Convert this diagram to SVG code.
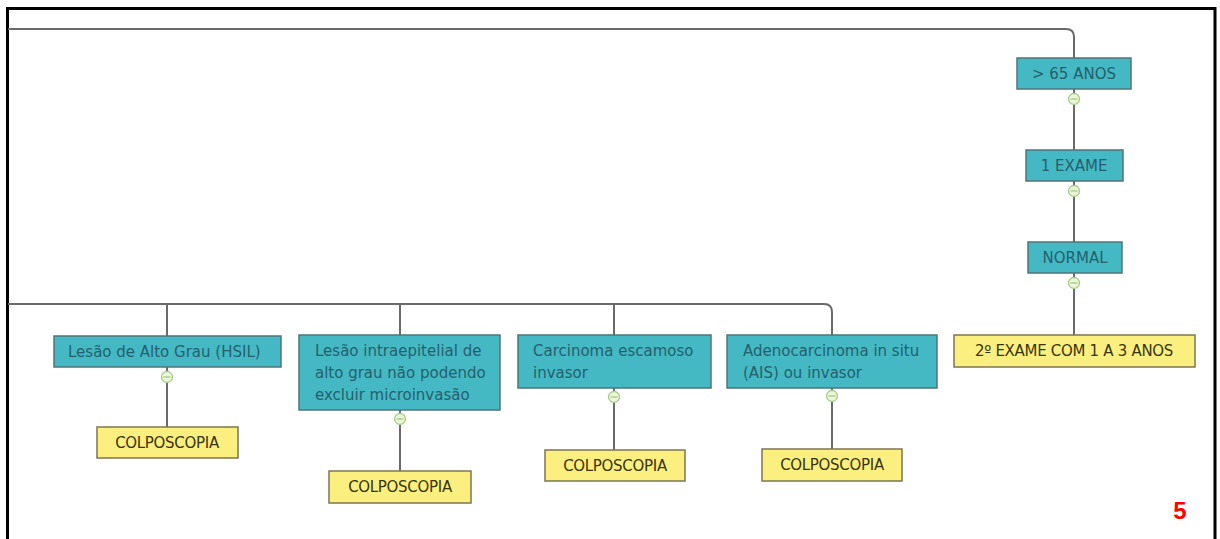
<svg xmlns="http://www.w3.org/2000/svg" width="1220" height="539" viewBox="0 0 1220 539">
  <defs>
    <style>
      .frame { fill: none; stroke: #000; stroke-width: 3; }
      .wire { fill: none; stroke: #6a6a6a; stroke-width: 2; }
      .teal rect { fill: #45b9c3; stroke: #4f7479; stroke-width: 1.5; }
      .teal text { fill: #24606e; font-family: "DejaVu Sans", sans-serif; font-size: 15px; }
      .yellow rect { fill: #fbf07f; stroke: #7d7650; stroke-width: 1.5; }
      .yellow text { fill: #3a3510; font-family: "DejaVu Sans", sans-serif; font-size: 15px; text-anchor: middle; letter-spacing: -0.3px; }
      .mid { text-anchor: middle; }
      .knob circle { fill: #eef6d8; stroke: #a3cc8c; stroke-width: 1.3; }
      .knob line { stroke: #a3cc8c; stroke-width: 1.3; }
      .page { fill: #ff0000; font-family: "Liberation Sans", Arial, sans-serif; font-size: 24px; font-weight: bold; text-anchor: middle; }
    </style>
    <g id="minus" class="knob">
      <circle cx="0" cy="0" r="5.5"/>
      <line x1="-3.5" y1="0" x2="3.5" y2="0"/>
    </g>
  </defs>

  <rect width="1220" height="539" fill="#fff"/>
  <path class="frame" d="M7.5 545 V8.5 H1215 V545"/>

  <!-- connectors -->
  <g id="connectors">
    <path class="wire" d="M8 29 H1066 Q1074 29 1074 37 V58"/>
    <path class="wire" d="M1074 89 V150"/>
    <path class="wire" d="M1074 181 V242"/>
    <path class="wire" d="M1074 273 V335"/>
    <path class="wire" d="M8 304 H824 Q832 304 832 312 V335"/>
    <path class="wire" d="M167 304 V336"/>
    <path class="wire" d="M400 304 V335"/>
    <path class="wire" d="M614 304 V335"/>
    <path class="wire" d="M167 367 V427"/>
    <path class="wire" d="M400 410 V471"/>
    <path class="wire" d="M614 388 V450"/>
    <path class="wire" d="M832 388 V449"/>
    <use href="#minus" x="1074" y="99"/>
    <use href="#minus" x="1074" y="191"/>
    <use href="#minus" x="1074" y="283"/>
    <use href="#minus" x="167" y="377"/>
    <use href="#minus" x="400" y="419"/>
    <use href="#minus" x="614" y="397"/>
    <use href="#minus" x="832" y="396"/>
  </g>

  <g id="n-65anos" class="teal">
    <rect x="1017" y="58" width="114" height="31"/>
    <text class="mid" x="1074" y="79">&gt; 65 ANOS</text>
  </g>
  <g id="n-1exame" class="teal">
    <rect x="1026" y="150" width="97" height="31"/>
    <text class="mid" x="1074" y="171">1 EXAME</text>
  </g>
  <g id="n-normal" class="teal">
    <rect x="1028" y="242" width="94" height="31"/>
    <text class="mid" x="1075" y="263">NORMAL</text>
  </g>
  <g id="n-2exame" class="yellow">
    <rect x="954" y="335" width="241" height="32"/>
    <text x="1074" y="356">2º EXAME COM 1 A 3 ANOS</text>
  </g>

  <g id="n-hsil" class="teal">
    <rect x="54" y="336" width="227" height="31"/>
    <text x="68" y="357">Lesão de Alto Grau (HSIL)</text>
  </g>
  <g id="n-hsil-colpo" class="yellow">
    <rect x="97" y="427" width="141" height="31"/>
    <text x="167" y="448">COLPOSCOPIA</text>
  </g>

  <g id="n-intraepitelial" class="teal">
    <rect x="299" y="335" width="201" height="75"/>
    <text x="315" y="356">Lesão intraepitelial de</text>
    <text x="315" y="378">alto grau não podendo</text>
    <text x="315" y="400">excluir microinvasão</text>
  </g>
  <g id="n-intraepitelial-colpo" class="yellow">
    <rect x="329" y="471" width="142" height="32"/>
    <text x="400" y="492">COLPOSCOPIA</text>
  </g>

  <g id="n-carcinoma" class="teal">
    <rect x="518" y="335" width="193" height="53"/>
    <text x="533" y="356">Carcinoma escamoso</text>
    <text x="533" y="378">invasor</text>
  </g>
  <g id="n-carcinoma-colpo" class="yellow">
    <rect x="545" y="450" width="140" height="31"/>
    <text x="615" y="471">COLPOSCOPIA</text>
  </g>

  <g id="n-adeno" class="teal">
    <rect x="727" y="335" width="210" height="53"/>
    <text x="743" y="356">Adenocarcinoma in situ</text>
    <text x="743" y="378">(AIS) ou invasor</text>
  </g>
  <g id="n-adeno-colpo" class="yellow">
    <rect x="762" y="449" width="140" height="32"/>
    <text x="832" y="470">COLPOSCOPIA</text>
  </g>

  <text class="page" x="1180" y="519">5</text>
</svg>
